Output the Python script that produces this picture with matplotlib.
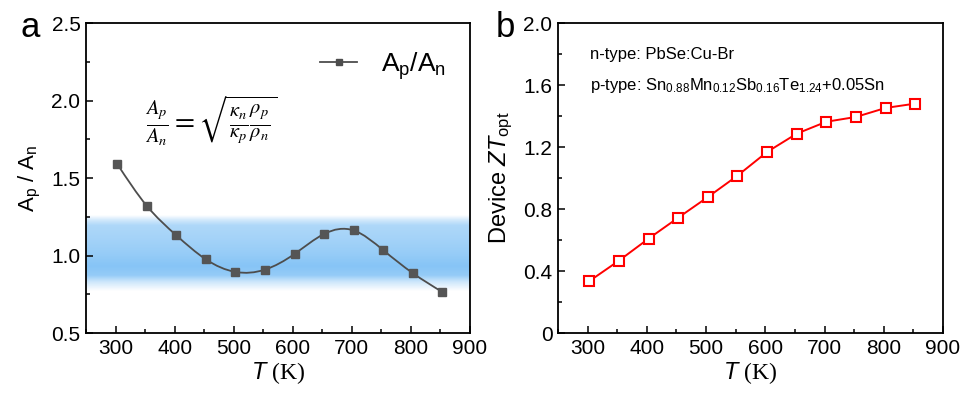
import numpy as np
import matplotlib
matplotlib.use('Agg')
import matplotlib.pyplot as plt
from matplotlib.path import Path
from matplotlib.patches import PathPatch
from matplotlib.lines import Line2D
import matplotlib.ticker as ticker

plt.rcParams['font.family'] = ['Liberation Sans', 'DejaVu Sans']
plt.rcParams['mathtext.fontset'] = 'custom'
plt.rcParams['mathtext.rm'] = 'Liberation Sans'
plt.rcParams['mathtext.it'] = 'Liberation Sans:italic'
plt.rcParams['mathtext.sf'] = 'Liberation Serif'

# data
temps = [303, 353, 403, 453, 503, 553, 603, 653, 703, 753, 803, 853]
ratio = [1.59, 1.32, 1.13, 0.975, 0.894, 0.909, 1.01, 1.139, 1.162, 1.035, 0.887, 0.765]
zt_opt = [0.335, 0.467, 0.609, 0.744, 0.877, 1.015, 1.168, 1.286, 1.363, 1.394, 1.452, 1.480]


def spline_path(x, y):
    # natural cubic spline through the points, as bezier segments
    x = np.asarray(x, float)
    y = np.asarray(y, float)
    n = len(x)
    h = np.diff(x)
    A = np.zeros((n, n))
    b = np.zeros(n)
    A[0, 0], A[0, 1] = 2 / h[0], 1 / h[0]
    b[0] = 3 * (y[1] - y[0]) / h[0] ** 2
    A[-1, -2], A[-1, -1] = 1 / h[-1], 2 / h[-1]
    b[-1] = 3 * (y[-1] - y[-2]) / h[-1] ** 2
    for i in range(1, n - 1):
        A[i, i - 1] = 1 / h[i - 1]
        A[i, i] = 2 / h[i - 1] + 2 / h[i]
        A[i, i + 1] = 1 / h[i]
        b[i] = 3 * ((y[i] - y[i - 1]) / h[i - 1] ** 2 + (y[i + 1] - y[i]) / h[i] ** 2)
    m = np.linalg.solve(A, b)
    verts = [(x[0], y[0])]
    codes = [Path.MOVETO]
    for i in range(n - 1):
        d = h[i] / 3
        verts += [(x[i] + d, y[i] + m[i] * d), (x[i + 1] - d, y[i + 1] - m[i + 1] * d),
                  (x[i + 1], y[i + 1])]
        codes += [Path.CURVE4] * 3
    return Path(verts, codes)


def style_axes(ax):
    for s in ax.spines.values():
        s.set_linewidth(1.3)
    ax.tick_params(which='both', direction='in', top=False, right=False,
                   labelsize=15, width=1.1, pad=4)
    ax.tick_params(which='major', length=5)
    ax.tick_params(which='minor', length=3)
    ax.set_xlim(250, 900)
    ax.xaxis.set_major_locator(ticker.MultipleLocator(100))
    ax.xaxis.set_minor_locator(ticker.MultipleLocator(50))
    ax.set_xlabel(r'$\mathit{T}\ \mathsf{(K)}$', fontsize=17, labelpad=2)


fig = plt.figure(figsize=(9.65, 3.99), dpi=100)
ax1 = fig.add_axes([0.0891, 0.1654, 0.3979, 0.7769])
ax2 = fig.add_axes([0.5782, 0.1654, 0.399, 0.7769])

# panel a
style_axes(ax1)
ax1.set_ylim(0.5, 2.5)
ax1.yaxis.set_major_locator(ticker.MultipleLocator(0.5))
ax1.yaxis.set_minor_locator(ticker.MultipleLocator(0.25))
ax1.yaxis.set_major_formatter(ticker.FormatStrFormatter('%.1f'))

# blue band
band_lo, band_hi = 0.77, 1.255
yy = np.linspace(band_lo, band_hi, 400)
alpha = np.interp(yy, [0.77, 0.83, 0.87, 0.93, 1.0, 1.1, 1.19, 1.225, 1.255],
                  [0.0, 0.35, 0.72, 0.82, 0.72, 0.62, 0.55, 0.3, 0.0])
band = np.zeros((400, 1, 4))
band[..., 0] = 0.42
band[..., 1] = 0.72
band[..., 2] = 0.96
band[..., 3] = alpha[:, None]
ax1.imshow(band, extent=[250, 900, band_lo, band_hi], origin='lower', aspect='auto',
           interpolation='bilinear', zorder=0)

ax1.add_patch(PathPatch(spline_path(temps, ratio), facecolor='none',
                        edgecolor='#4d4d4d', lw=1.3, zorder=2))
ax1.plot(temps, ratio, ls='none', marker='s', ms=5.5, color='#555555', zorder=3)
h = Line2D([], [], color='#4d4d4d', lw=1.3, marker='s', ms=4.5)
ax1.legend([h], ['A$_\\mathregular{p}$/A$_\\mathregular{n}$'], loc='upper right',
           frameon=False, fontsize=19, handlelength=1.4, handletextpad=0.9,
           bbox_to_anchor=(1.0, 0.99))
ax1.set_ylabel('A$_\\mathregular{p}$ / A$_\\mathregular{n}$', fontsize=16, labelpad=6)
ax1.text(462, 1.87, r'$\frac{A_p}{A_n} = \sqrt{\frac{\kappa_n}{\kappa_p}\frac{\rho_p}{\rho_n}}$',
         math_fontfamily='stix', fontsize=21, ha='center', va='center')

# panel b
style_axes(ax2)
ax2.set_ylim(0, 2.0)
ax2.yaxis.set_major_locator(ticker.MultipleLocator(0.4))
ax2.yaxis.set_minor_locator(ticker.MultipleLocator(0.2))
ax2.yaxis.set_major_formatter(ticker.FuncFormatter(lambda v, p: '0' if v == 0 else f'{v:.1f}'))
ax2.plot(temps, zt_opt, color='#ff0000', lw=1.4, marker='s', ms=6.5,
         mfc='white', mec='#ff0000', mew=1.5)
ax2.set_ylabel(r'Device $\mathit{ZT}_\mathregular{opt}$', fontsize=17, labelpad=6)
ax2.text(304, 1.80, 'n-type: PbSe:Cu-Br', fontsize=12, va='center')
ax2.text(304, 1.60, 'p-type: Sn$_{\\mathregular{0.88}}$Mn$_{\\mathregular{0.12}}$'
         'Sb$_{\\mathregular{0.16}}$Te$_{\\mathregular{1.24}}$+0.05Sn',
         fontsize=12, va='center')

fig.text(0.031, 0.93, 'a', fontsize=25, ha='center', va='center')
fig.text(0.524, 0.93, 'b', fontsize=25, ha='center', va='center')

fig.savefig('out.png', dpi=100)
